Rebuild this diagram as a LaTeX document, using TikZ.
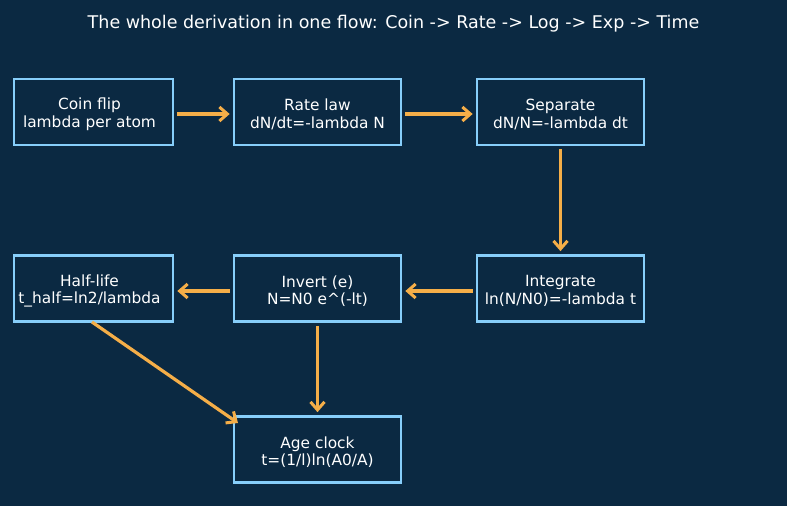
\documentclass[tikz,border=0pt]{standalone}
\usepackage{fontspec}
\setmainfont{DejaVu Sans}
\usetikzlibrary{arrows.meta}
\definecolor{bg}{HTML}{0B2942}
\definecolor{edge}{HTML}{87CEFA}
\definecolor{arr}{HTML}{F5AE48}
\begin{document}
\begin{tikzpicture}[x=1pt,y=-1pt,
  box/.style={draw=edge, line width=2.7pt, fill=bg, minimum width=167pt, minimum height=66pt, inner sep=0pt},
  txt/.style={text=white, align=center, inner sep=0pt, font=\fontsize{15.4}{17.5}\selectfont},
  flow/.style={draw=arr, line width=3.2pt, -{Straight Barb[length=8pt,width=14pt,line width=3pt]}, shorten >=3pt, shorten <=3pt}]
\fill[bg] (0,0) rectangle (787,506);
\useasboundingbox (0,0) rectangle (787,506);
\node[text=white, font=\fontsize{17.5}{20}\selectfont] (title) at (393.5,23.5) {The whole derivation in one flow: Coin -> Rate -> Log -> Exp -> Time};
% clipped left boxes
\begin{scope}
\clip (13,0) rectangle (787,506);
\node[box] (coin) at (89.5,112) {};
\node[box] (half) at (89.5,288.5) {};
\end{scope}
\draw[edge, line width=2.7pt] (14,79) -- (14,145);
\draw[edge, line width=2.7pt] (14,255.5) -- (14,321.5);
\node[box] (rate) at (317.5,112) {};
\node[box] (sep) at (560.5,112) {};
\node[box] (integ) at (560.5,288.5) {};
\node[box] (inv) at (317.5,288.5) {};
\node[box] (age) at (317.5,449.5) {};
\node[txt] (coin-t) at ([yshift=-2.5pt]coin.center) {Coin flip\\lambda per atom};
\node[txt] (half-t) at ([yshift=-2.5pt]half.center) {Half-life\\t\_half=ln2/lambda};
\node[txt] (rate-t) at ([yshift=-2.5pt]rate.center) {Rate law\\dN/dt=-lambda N};
\node[txt] (sep-t) at ([yshift=-2.5pt]sep.center) {Separate\\dN/N=-lambda dt};
\node[txt] (integ-t) at ([yshift=-2.5pt]integ.center) {Integrate\\ln(N/N0)=-lambda t};
\node[txt] (inv-t) at ([yshift=-2.5pt]inv.center) {Invert (e)\\N=N0 e\^{}(-lt)};
\node[txt] (age-t) at ([yshift=-2.5pt]age.center) {Age clock\\t=(1/l)ln(A0/A)};
\draw[flow] (coin.east |- 0,114) -- (rate.west |- 0,114);
\draw[flow] (rate.east |- 0,114) -- (sep.west |- 0,114);
\draw[flow] (sep.south) -- (integ.north);
\draw[flow] (integ.west |- 0,291) -- (inv.east |- 0,291);
\draw[flow] (inv.west |- 0,291) -- (half.east |- 0,291);
\draw[flow] (inv.south) -- (age.north);
\coordinate (hs) at (92,322);
\coordinate (ae) at (238,423);
\draw[flow, shorten <=0pt, shorten >=0pt] (hs) -- (ae);
\end{tikzpicture}
\end{document}
